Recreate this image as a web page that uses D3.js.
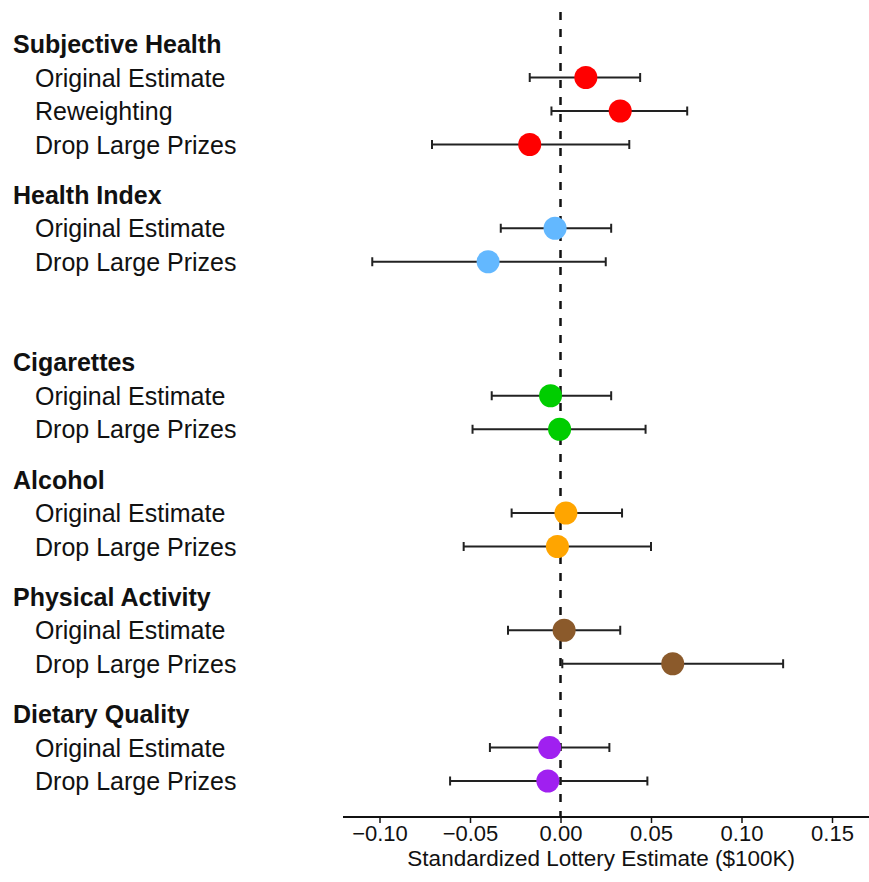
<!DOCTYPE html>
<html>
<head>
<meta charset="utf-8">
<script src="https://cdn.jsdelivr.net/npm/d3@7"></script>
<style>
  body { margin: 0; background: #fff; }
  svg { font-family: "Liberation Sans", Arial, Helvetica, sans-serif; }
</style>
</head>
<body>
<svg width="869" height="882"></svg>
<script>
// outcome groups and the estimates shown under each one
const groups = ["Subjective Health", "Health Index", "Cigarettes", "Alcohol", "Physical Activity", "Dietary Quality"];
const groupColors = ["#ff0000", "#63b8ff", "#00cd00", "#ffa500", "#8b5a2b", "#a020f0"];
const rowGroup = [0, 0, 0, 1, 1, 2, 2, 3, 3, 4, 4, 5, 5];
const rowLabels = [
    "Original Estimate", "Reweighting", "Drop Large Prizes",
    "Original Estimate", "Drop Large Prizes",
    "Original Estimate", "Drop Large Prizes",
    "Original Estimate", "Drop Large Prizes",
    "Original Estimate", "Drop Large Prizes",
    "Original Estimate", "Drop Large Prizes"
];
const estimates = [0.014, 0.033, -0.017, -0.003, -0.040, -0.0055, -0.0005, 0.003, -0.0017, 0.002, 0.062, -0.006, -0.007];
const lower = [-0.017, -0.005, -0.071, -0.033, -0.104, -0.038, -0.0486, -0.027, -0.0535, -0.029, 0.001, -0.039, -0.061];
const upper = [0.044, 0.070, 0.038, 0.028, 0.025, 0.028, 0.047, 0.034, 0.050, 0.033, 0.123, 0.027, 0.048];
const xTicks = [-0.10, -0.05, 0.00, 0.05, 0.10, 0.15];

const svg = d3.select("svg");
const width = 869;

// slot index per line of text; extra space after Health Index (no third row there)
const extraGap = [0, 0, 1.5, 0, 0, 0];
let slot = 0;
const headerSlot = [];
const rowSlot = [];
groups.forEach((g, gi) => {
    if (gi > 0) slot += 1.5 + extraGap[gi];
    headerSlot.push(slot);
    rowGroup.forEach((rg, ri) => {
        if (rg === gi) { slot += 1; rowSlot[ri] = slot; }
    });
});

const y = d3.scaleLinear().domain([0, 22]).range([44, 781]);
const x = d3.scaleLinear().domain([-0.10, 0.15]).range([379.5, 832]);
const axisY = 817;

// headers
svg.selectAll("text.header")
    .data(groups)
    .join("text")
    .attr("class", "header")
    .attr("x", 13)
    .attr("y", (d, i) => y(headerSlot[i]))
    .attr("dy", "0.36em")
    .style("font-size", "25px")
    .style("font-weight", "bold")
    .attr("fill", "#111")
    .text(d => d);

svg.selectAll("text.row")
    .data(rowLabels)
    .join("text")
    .attr("class", "row")
    .attr("x", 35)
    .attr("y", (d, i) => y(rowSlot[i]))
    .attr("dy", "0.36em")
    .style("font-size", "25px")
    .attr("fill", "#111")
    .text(d => d);

// zero reference line
svg.append("line")
    .attr("x1", x(0)).attr("x2", x(0))
    .attr("y1", 12).attr("y2", axisY)
    .attr("stroke", "#111")
    .attr("stroke-width", 2.5)
    .attr("stroke-dasharray", "8,9");

// axis
const axis = d3.axisBottom(x)
    .tickValues(xTicks)
    .tickSize(6)
    .tickFormat(d => d3.format(".2f")(d).replace("-", "\u2212"));

const gAxis = svg.append("g")
    .attr("transform", `translate(0,${axisY})`)
    .call(axis);
gAxis.select(".domain").remove();
gAxis.append("line")
    .attr("x1", 343).attr("x2", width)
    .attr("stroke", "#111").attr("stroke-width", 2);
gAxis.selectAll(".tick line").attr("stroke", "#111").attr("stroke-width", 1.5);
gAxis.selectAll(".tick text")
    .attr("y", 24)
    .attr("dy", null)
    .attr("fill", "#111")
    .style("font-size", "22px")
    .style("font-family", "'Liberation Sans', Arial, sans-serif");

svg.append("text")
    .attr("x", x(0.0225))
    .attr("y", 866)
    .attr("text-anchor", "middle")
    .style("font-size", "22.5px")
    .attr("fill", "#111")
    .text("Standardized Lottery Estimate ($100K)");

// error bars
const bars = svg.append("g");
rowLabels.forEach((d, i) => {
    const yy = y(rowSlot[i]);
    bars.append("line")
        .attr("x1", x(lower[i])).attr("x2", x(upper[i]))
        .attr("y1", yy).attr("y2", yy)
        .attr("stroke", "#222").attr("stroke-width", 2);
    [lower[i], upper[i]].forEach(v => {
        bars.append("line")
            .attr("x1", x(v)).attr("x2", x(v))
            .attr("y1", yy - 4.5).attr("y2", yy + 4.5)
            .attr("stroke", "#222").attr("stroke-width", 2);
    });
});

svg.selectAll("circle.pt")
    .data(estimates)
    .join("circle")
    .attr("class", "pt")
    .attr("cx", d => x(d))
    .attr("cy", (d, i) => y(rowSlot[i]))
    .attr("r", 11.5)
    .attr("fill", (d, i) => groupColors[rowGroup[i]]);
</script>
</body>
</html>
